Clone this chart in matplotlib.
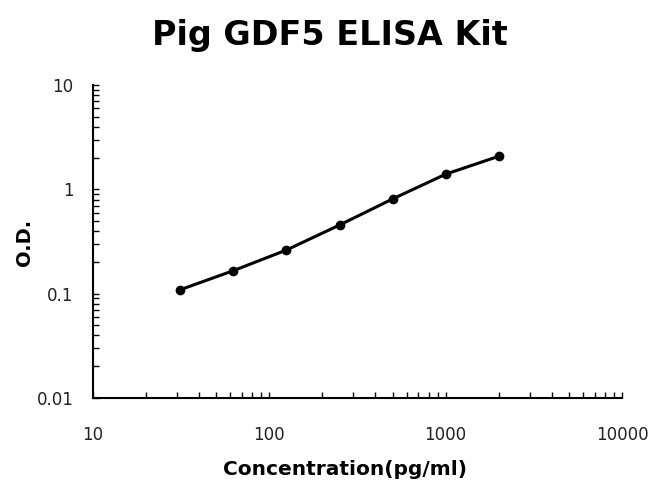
import matplotlib
matplotlib.use("Agg")
import matplotlib.pyplot as plt
from matplotlib.ticker import LogLocator, FixedLocator, FixedFormatter, NullFormatter

concentration = [31.25, 62.5, 125, 250, 500, 1000, 2000]
od = [0.109, 0.166, 0.262, 0.455, 0.81, 1.40, 2.08]
x_ticks = [10, 100, 1000, 10000]
x_labels = ["10", "100", "1000", "10000"]
y_ticks = [0.01, 0.1, 1, 10]
y_labels = ["0.01", "0.1", "1", "10"]

plt.rcParams['font.family'] = ['DejaVu Sans']
fig = plt.figure(figsize=(6.5, 4.84), dpi=100)
ax = fig.add_axes([0.143, 0.178, 0.814, 0.646])
ax.plot(concentration, od, color='black', lw=2.2, marker='o', ms=6)
ax.set_xscale('log')
ax.set_yscale('log')
ax.set_xlim(10, 10000)
ax.set_ylim(0.01, 10)
ax.xaxis.set_major_locator(FixedLocator(x_ticks))
ax.xaxis.set_major_formatter(FixedFormatter(x_labels))
ax.yaxis.set_major_locator(FixedLocator(y_ticks))
ax.yaxis.set_major_formatter(FixedFormatter(y_labels))
ax.xaxis.set_minor_locator(LogLocator(base=10, subs=range(2, 10)))
ax.yaxis.set_minor_locator(LogLocator(base=10, subs=range(2, 10)))
ax.xaxis.set_minor_formatter(NullFormatter())
ax.yaxis.set_minor_formatter(NullFormatter())
ax.tick_params(axis='both', which='both', direction='in', length=4, width=1, color='black')
ax.tick_params(axis='x', which='major', pad=20, labelsize=12, labelcolor='#222222')
ax.tick_params(axis='y', which='major', pad=14, labelsize=12, labelcolor='#222222')
for s in ['top', 'right']:
    ax.spines[s].set_visible(False)
for s in ['left', 'bottom']:
    ax.spines[s].set_linewidth(1.5)
fig.text(0.508, 0.927, "Pig GDF5 ELISA Kit", ha='center', va='center', fontsize=24, fontweight='bold')
fig.text(0.038, 0.5, "O.D.", ha='center', va='center', rotation=90, fontsize=14, fontweight='bold')
fig.text(0.53, 0.03, "Concentration(pg/ml)", ha='center', va='center', fontsize=14.5, fontweight='bold')
fig.savefig("out.png", dpi=100)
